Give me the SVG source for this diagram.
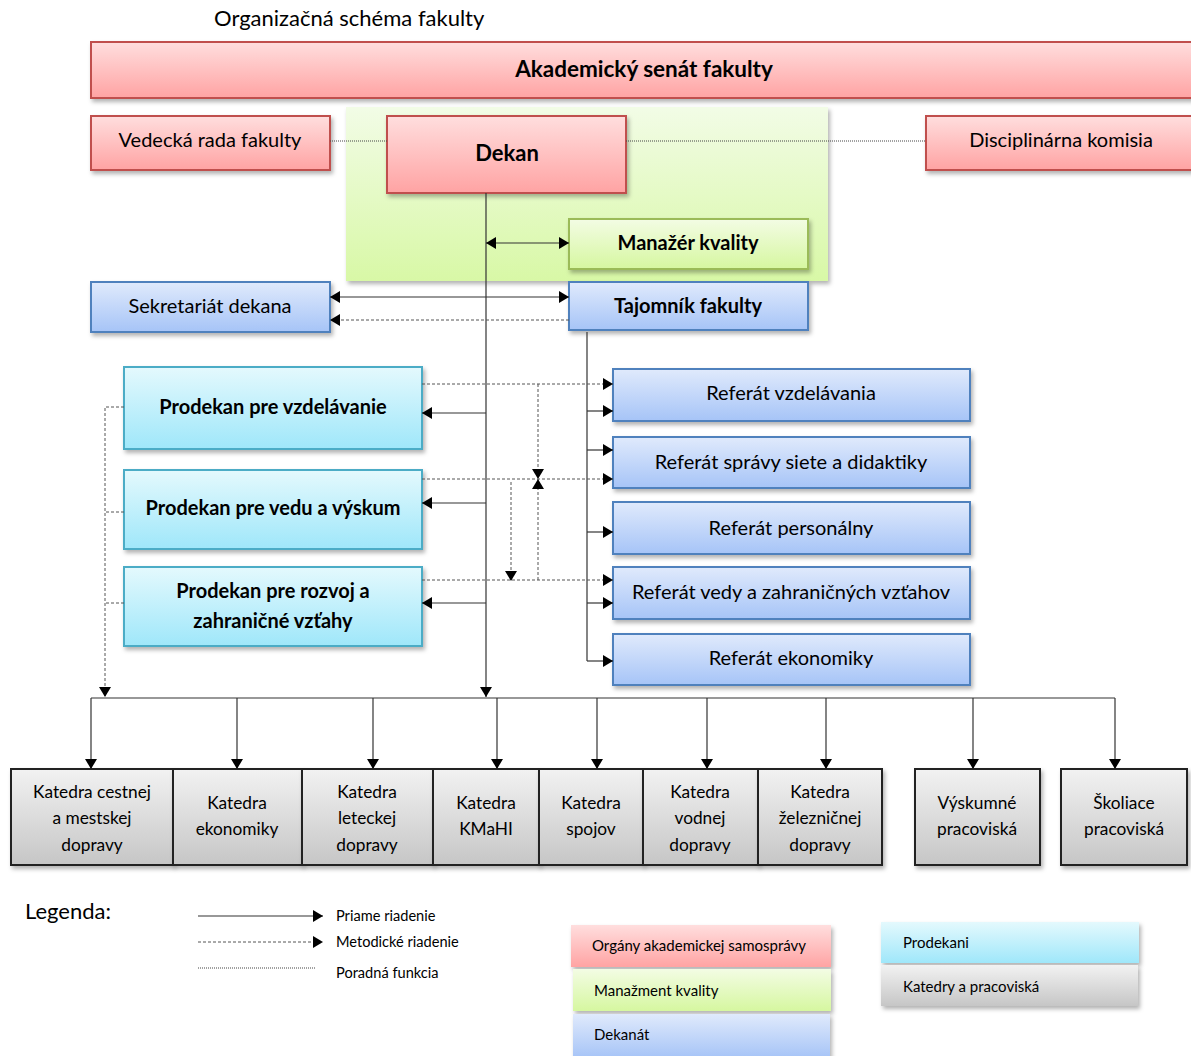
<svg xmlns="http://www.w3.org/2000/svg" width="1191" height="1056" viewBox="0 0 1191 1056">
<defs>
<linearGradient id="gRed" x1="0" y1="0" x2="0" y2="1"><stop offset="0" stop-color="#ffdede"/><stop offset="1" stop-color="#ffa3a3"/></linearGradient>
<linearGradient id="gGreenBg" x1="0" y1="0" x2="0" y2="1"><stop offset="0" stop-color="#f2fce6"/><stop offset="1" stop-color="#d8f8a6"/></linearGradient>
<linearGradient id="gGreen" x1="0" y1="0" x2="0" y2="1"><stop offset="0" stop-color="#f3fce4"/><stop offset="1" stop-color="#d6f7a0"/></linearGradient>
<linearGradient id="gBlue" x1="0" y1="0" x2="0" y2="1"><stop offset="0" stop-color="#e0eafc"/><stop offset="1" stop-color="#a6c4f7"/></linearGradient>
<linearGradient id="gCyan" x1="0" y1="0" x2="0" y2="1"><stop offset="0" stop-color="#e4f9fd"/><stop offset="1" stop-color="#9fe7fa"/></linearGradient>
<linearGradient id="gGray" x1="0" y1="0" x2="0" y2="1"><stop offset="0" stop-color="#f2f2f2"/><stop offset="1" stop-color="#c6c6c6"/></linearGradient>
<filter id="sh" x="-10%" y="-20%" width="120%" height="150%"><feDropShadow dx="2" dy="3" stdDeviation="2" flood-color="#000" flood-opacity="0.3"/></filter>
<marker id="ah" viewBox="0 0 10 12" refX="10" refY="6" markerWidth="10" markerHeight="12" markerUnits="userSpaceOnUse" orient="auto-start-reverse"><path d="M0,0 L10,6 L0,12 z" fill="#000"/></marker>
</defs>
<style>
text{font-family:Lato,"Liberation Sans",sans-serif;fill:#000;}
.t{font-size:20px;text-anchor:middle;}
.b{font-weight:bold;}
.k{font-size:17.3px;text-anchor:middle;}
.lg{font-size:14.6px;}
.lb{font-size:15px;}
.red{fill:url(#gRed);stroke:#c0504d;stroke-width:2;filter:url(#sh);}
.grn{fill:url(#gGreen);stroke:#9bbb59;stroke-width:2;filter:url(#sh);}
.blu{fill:url(#gBlue);stroke:#4f81bd;stroke-width:2;filter:url(#sh);}
.cyn{fill:url(#gCyan);stroke:#4bacc6;stroke-width:2;filter:url(#sh);}
.gry{fill:url(#gGray);stroke:#222;stroke-width:2;filter:url(#sh);}
.s{fill:none;stroke:#333;stroke-width:1.2;}
.d{fill:none;stroke:#555;stroke-width:1;stroke-dasharray:3 2;}
.p{fill:none;stroke:#444;stroke-width:1;stroke-dasharray:1 1;}
.ae{marker-end:url(#ah);}
.ab{marker-start:url(#ah);marker-end:url(#ah);}
</style>
<rect width="1191" height="1056" fill="#fff"/>
<text x="214" y="26" style="font-size:22px">Organizačná schéma fakulty</text>

<rect id="green-area" x="346" y="107" width="482" height="174" fill="url(#gGreenBg)" filter="url(#sh)"/>

<g id="senat"><rect class="red" x="91" y="42" width="1110" height="56"/><text class="t b" x="644" y="77" style="font-size:22.5px">Akademický senát fakulty</text></g>
<g id="vedecka"><rect class="red" x="91" y="116" width="239" height="54"/><text class="t" x="210" y="147">Vedecká rada fakulty</text></g>
<g id="dekan"><rect class="red" x="387" y="116" width="239" height="77"/><text class="t b" x="507" y="161" style="font-size:22px">Dekan</text></g>
<g id="disciplinarna"><rect class="red" x="926" y="116" width="275" height="54"/><text class="t" x="1061" y="147">Disciplinárna komisia</text></g>
<g id="manazer"><rect class="grn" x="569" y="219" width="239" height="50"/><text class="t b" x="688" y="250">Manažér kvality</text></g>
<g id="sekretariat"><rect class="blu" x="91" y="282" width="239" height="50"/><text class="t" x="210" y="313">Sekretariát dekana</text></g>
<g id="tajomnik"><rect class="blu" x="569" y="282" width="239" height="48"/><text class="t b" x="688" y="313">Tajomník fakulty</text></g>

<g id="ref-vzdel"><rect class="blu" x="613" y="369" width="357" height="52"/><text class="t" x="791" y="400">Referát vzdelávania</text></g>
<g id="ref-sprava"><rect class="blu" x="613" y="437" width="357" height="51"/><text class="t" x="791" y="469">Referát správy siete a didaktiky</text></g>
<g id="ref-person"><rect class="blu" x="613" y="502" width="357" height="52"/><text class="t" x="791" y="535">Referát personálny</text></g>
<g id="ref-veda"><rect class="blu" x="613" y="567" width="357" height="52"/><text class="t" x="791" y="599">Referát vedy a zahraničných vzťahov</text></g>
<g id="ref-ekon"><rect class="blu" x="613" y="634" width="357" height="51"/><text class="t" x="791" y="665">Referát ekonomiky</text></g>

<g id="prod-vzdel"><rect class="cyn" x="124" y="367" width="298" height="82"/><text class="t b" x="273" y="414">Prodekan pre vzdelávanie</text></g>
<g id="prod-veda"><rect class="cyn" x="124" y="470" width="298" height="79"/><text class="t b" x="273" y="515">Prodekan pre vedu a výskum</text></g>
<g id="prod-rozvoj"><rect class="cyn" x="124" y="567" width="298" height="79"/><text class="t b" x="273" y="598">Prodekan pre rozvoj a</text><text class="t b" x="273" y="628">zahraničné vzťahy</text></g>

<g id="k1"><rect class="gry" x="11" y="769" width="162" height="96"/><text class="k" x="92" y="798">Katedra cestnej</text><text class="k" x="92" y="824">a mestskej</text><text class="k" x="92" y="851">dopravy</text></g>
<g id="k2"><rect class="gry" x="173" y="769" width="129" height="96"/><text class="k" x="237" y="809">Katedra</text><text class="k" x="237" y="835">ekonomiky</text></g>
<g id="k3"><rect class="gry" x="302" y="769" width="131" height="96"/><text class="k" x="367" y="798">Katedra</text><text class="k" x="367" y="824">leteckej</text><text class="k" x="367" y="851">dopravy</text></g>
<g id="k4"><rect class="gry" x="433" y="769" width="106" height="96"/><text class="k" x="486" y="809">Katedra</text><text class="k" x="486" y="835">KMaHI</text></g>
<g id="k5"><rect class="gry" x="539" y="769" width="104" height="96"/><text class="k" x="591" y="809">Katedra</text><text class="k" x="591" y="835">spojov</text></g>
<g id="k6"><rect class="gry" x="643" y="769" width="115" height="96"/><text class="k" x="700" y="798">Katedra</text><text class="k" x="700" y="824">vodnej</text><text class="k" x="700" y="851">dopravy</text></g>
<g id="k7"><rect class="gry" x="758" y="769" width="124" height="96"/><text class="k" x="820" y="798">Katedra</text><text class="k" x="820" y="824">železničnej</text><text class="k" x="820" y="851">dopravy</text></g>
<g id="k8"><rect class="gry" x="915" y="769" width="125" height="96"/><text class="k" x="977" y="809">Výskumné</text><text class="k" x="977" y="835">pracoviská</text></g>
<g id="k9"><rect class="gry" x="1061" y="769" width="126" height="96"/><text class="k" x="1124" y="809">Školiace</text><text class="k" x="1124" y="835">pracoviská</text></g>

<g id="connectors">
<path class="p" d="M330,141 H387 M626,141 H926"/>
<path class="s ae" d="M486,193 V697"/>
<path class="s ab" d="M486,243 H569"/>
<path class="s ab" d="M330,297 H569"/>
<path class="d ae" d="M569,320 H330"/>
<path class="s" d="M587,332 V661"/>
<path class="s ae" d="M587,411 H613"/>
<path class="s ae" d="M587,450 H613"/>
<path class="s ae" d="M587,532 H613"/>
<path class="s ae" d="M587,603 H613"/>
<path class="s ae" d="M587,661 H613"/>
<path class="s ae" d="M486,413 H422"/>
<path class="s ae" d="M486,503 H422"/>
<path class="s ae" d="M486,603 H422"/>
<path class="d ae" d="M422,384 H613"/>
<path class="d ae" d="M422,479 H613"/>
<path class="d ae" d="M422,580 H613"/>
<path class="d ae" d="M538,384 V479"/>
<path class="d ae" d="M538,580 V479"/>
<path class="d ae" d="M511,482 V581"/>
<path class="d ae" d="M124,407 H105 V697"/>
<path class="d" d="M124,512 H105 M124,603 H105"/>
<path class="s" d="M91,698 H1115"/>
<path class="s ae" d="M91,698 V769"/>
<path class="s ae" d="M237,698 V769"/>
<path class="s ae" d="M373,698 V769"/>
<path class="s ae" d="M497,698 V769"/>
<path class="s ae" d="M597,698 V769"/>
<path class="s ae" d="M707,698 V769"/>
<path class="s ae" d="M826,698 V769"/>
<path class="s ae" d="M973,698 V769"/>
<path class="s ae" d="M1115,698 V769"/>
</g>

<g id="legend">
<text x="25" y="919" style="font-size:22px">Legenda:</text>
<path class="s ae" d="M198,916 H323"/>
<path class="d ae" d="M198,942 H323"/>
<path class="p" d="M198,968 H316"/>
<text class="lg" x="336" y="921">Priame riadenie</text>
<text class="lg" x="336" y="947">Metodické riadenie</text>
<text class="lg" x="336" y="978">Poradná funkcia</text>
<rect x="571" y="925" width="260" height="42" fill="url(#gRed)" filter="url(#sh)"/>
<text class="lb" x="592" y="951">Orgány akademickej samosprávy</text>
<rect x="573" y="969" width="258" height="42" fill="url(#gGreen)" filter="url(#sh)"/>
<text class="lb" x="594" y="996">Manažment kvality</text>
<rect x="573" y="1014" width="257" height="44" fill="url(#gBlue)" filter="url(#sh)"/>
<text class="lb" x="594" y="1040">Dekanát</text>
<rect x="881" y="922" width="258" height="41" fill="url(#gCyan)" filter="url(#sh)"/>
<text class="lb" x="903" y="948">Prodekani</text>
<rect x="881" y="965" width="257" height="41" fill="url(#gGray)" filter="url(#sh)"/>
<text class="lb" x="903" y="992">Katedry a pracoviská</text>
</g>
</svg>
